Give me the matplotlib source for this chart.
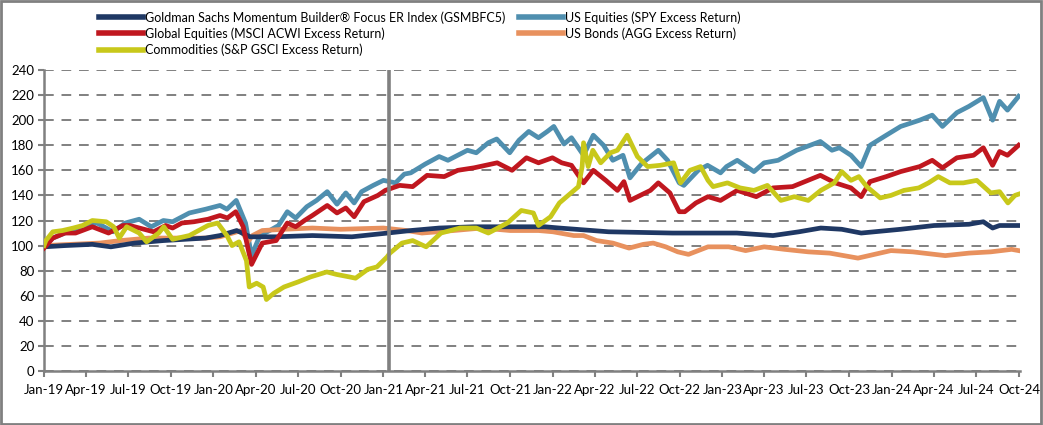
import matplotlib
matplotlib.use("Agg")
import matplotlib.pyplot as plt
from matplotlib.patches import Rectangle
from matplotlib.lines import Line2D
import pandas as pd

# ---------------- data ----------------
spy_dates = ["2019-01-01","2019-01-20","2019-02-15","2019-03-10","2019-04-25","2019-05-30","2019-06-25",
             "2019-07-25","2019-08-20","2019-09-15","2019-10-05","2019-11-10","2019-12-15","2020-01-15",
             "2020-01-30","2020-02-19","2020-03-10","2020-03-23","2020-04-10","2020-05-01","2020-05-20",
             "2020-06-08","2020-06-26","2020-07-20","2020-08-10","2020-09-02","2020-09-23","2020-10-12",
             "2020-10-30","2020-11-15","2020-12-10","2021-01-01","2021-01-27","2021-02-15","2021-03-01",
             "2021-04-01","2021-05-01","2021-05-20","2021-07-01","2021-07-20","2021-08-15","2021-09-02",
             "2021-09-30","2021-10-20","2021-11-10","2021-12-01","2021-12-20","2022-01-03","2022-01-25",
             "2022-02-10","2022-03-08","2022-03-29","2022-04-20","2022-05-10","2022-06-01","2022-06-16",
             "2022-07-10","2022-08-16","2022-09-05","2022-09-30","2022-10-10","2022-11-10","2022-11-30",
             "2022-12-28","2023-01-10","2023-02-02","2023-03-10","2023-04-01","2023-05-01","2023-06-10",
             "2023-07-31","2023-08-25","2023-09-10","2023-10-05","2023-10-27","2023-11-15","2023-12-20",
             "2024-01-20","2024-03-01","2024-03-28","2024-04-19","2024-05-20","2024-06-15","2024-07-16",
             "2024-08-05","2024-08-20","2024-09-06","2024-09-30"]
spy_vals = [100,106,110,113,118,111,118,121,115,120,119,126,129,132,129,136,118,92,108,112,116,
            127,122,131,136,143,133,142,134,143,148,152,150,157,158,165,171,168,176,174,182,185,
            174,184,191,186,191,195,181,186,172,188,180,168,172,154,165,176,168,150,148,160,164,
            158,163,168,159,166,168,176,183,176,178,172,163,180,188,195,200,204,195,206,211,218,
            200,215,208,219]

acwi_dates = ["2019-01-01","2019-01-20","2019-02-15","2019-03-10","2019-04-15","2019-05-20","2019-06-20",
              "2019-07-05","2019-08-25","2019-09-20","2019-10-05","2019-10-25","2019-11-20","2019-12-20",
              "2020-01-15","2020-01-31","2020-02-18","2020-03-05","2020-03-23","2020-04-15","2020-05-15",
              "2020-06-08","2020-06-26","2020-07-15","2020-08-01","2020-09-02","2020-09-23","2020-10-12",
              "2020-10-30","2020-11-20","2020-12-20","2021-01-05","2021-02-05","2021-03-05","2021-04-05",
              "2021-05-12","2021-06-10","2021-07-15","2021-09-03","2021-10-05","2021-11-05","2021-12-01",
              "2021-12-31","2022-01-20","2022-02-10","2022-03-08","2022-03-29","2022-04-25","2022-05-20",
              "2022-06-03","2022-06-16","2022-07-30","2022-08-16","2022-09-10","2022-09-30","2022-10-12",
              "2022-11-05","2022-12-01","2022-12-28","2023-02-02","2023-03-15","2023-04-20","2023-06-01",
              "2023-07-31","2023-09-01","2023-10-05","2023-10-27","2023-11-15","2023-12-20","2024-01-20",
              "2024-03-01","2024-03-28","2024-04-19","2024-05-20","2024-06-25","2024-07-16","2024-08-05",
              "2024-08-20","2024-09-06","2024-09-30"]
acwi_vals = [98,106,110,110,115,110,116,116,111,116,114,118,119,121,124,122,127,115,85,102,104,
             118,115,120,124,132,126,130,123,135,140,144,148,147,156,155,160,162,166,160,170,166,
             170,166,164,150,160,152,144,151,136,144,150,142,127,127,134,139,136,144,139,146,147,
             156,150,146,139,151,155,159,163,168,162,170,172,178,164,175,172,180]

cmd_dates = ["2019-01-01","2019-01-05","2019-01-20","2019-02-10","2019-03-05","2019-03-25","2019-04-15",
             "2019-05-15","2019-05-31","2019-06-12","2019-06-28","2019-07-25","2019-08-10","2019-09-05",
             "2019-09-16","2019-10-05","2019-11-10","2019-12-20","2020-01-10","2020-01-30","2020-02-10",
             "2020-02-25","2020-03-12","2020-03-18","2020-04-03","2020-04-17","2020-04-24","2020-05-10",
             "2020-06-01","2020-07-01","2020-07-28","2020-09-01","2020-09-22","2020-10-20","2020-11-02",
             "2020-11-28","2020-12-18","2021-01-09","2021-01-15","2021-02-10","2021-03-05","2021-04-03",
             "2021-05-05","2021-06-15","2021-07-20","2021-08-15","2021-09-25","2021-10-25","2021-11-20",
             "2021-12-01","2021-12-27","2022-01-15","2022-02-25","2022-03-05","2022-03-08","2022-03-18",
             "2022-03-28","2022-04-14","2022-05-05","2022-05-20","2022-06-10","2022-07-02","2022-07-24",
             "2022-08-20","2022-09-18","2022-10-03","2022-10-23","2022-11-15","2022-12-01","2022-12-12",
             "2023-01-12","2023-02-08","2023-03-10","2023-04-08","2023-05-07","2023-06-05","2023-07-05",
             "2023-08-01","2023-08-30","2023-09-15","2023-10-05","2023-10-22","2023-11-08","2023-12-07",
             "2023-12-30","2024-01-27","2024-02-28","2024-03-20","2024-04-10","2024-05-05","2024-06-03",
             "2024-07-02","2024-08-01","2024-08-20","2024-09-07","2024-09-22","2024-09-30"]
cmd_vals = [100,104,111,112,114,116,120,119,115,106,115,110,103,110,115,105,108,116,118,108,100,
            103,88,67,70,67,57,62,67,71,75,79,77,75,74,81,83,91,94,102,104,99,110,114,114,110,
            118,128,126,116,123,134,147,163,182,163,176,166,174,176,188,171,163,164,166,150,160,
            163,152,147,150,146,144,148,136,139,136,144,150,159,152,155,147,138,140,144,146,150,
            155,150,150,152,142,143,134,140,141]

agg_dates = ["2019-01-01","2019-03-01","2019-05-01","2019-06-15","2019-08-15","2019-10-15","2019-12-15",
             "2020-01-15","2020-03-01","2020-03-15","2020-03-25","2020-04-15","2020-06-01","2020-08-01",
             "2020-10-01","2021-01-01","2021-02-20","2021-03-25","2021-06-01","2021-08-01","2021-10-01",
             "2021-12-01","2022-01-01","2022-02-15","2022-03-08","2022-04-05","2022-05-10","2022-06-14",
             "2022-07-15","2022-08-05","2022-09-01","2022-09-27","2022-10-20","2022-12-01","2023-01-15",
             "2023-02-20","2023-04-01","2023-05-15","2023-07-05","2023-08-20","2023-10-20","2023-12-30",
             "2024-02-15","2024-04-25","2024-06-15","2024-08-01","2024-09-15","2024-09-30"]
agg_vals = [100,101,102,104,106,106,106,107,112,103,108,112,113,114,113,114,112,110,112,114,112,
            112,111,108,108,104,102,98,101,102,99,95,93,99,99,96,99,97,95,94,90,96,95,92,94,95,97,96]

gs_dates = ["2019-01-01","2019-02-15","2019-04-15","2019-05-25","2019-07-15","2019-09-15","2019-12-15",
            "2020-01-15","2020-02-20","2020-03-20","2020-05-15","2020-08-01","2020-10-25","2021-01-10",
            "2021-03-01","2021-05-01","2021-07-15","2021-10-01","2021-12-15","2022-01-15","2022-05-01",
            "2022-09-15","2023-02-01","2023-04-20","2023-06-15","2023-08-01","2023-09-15","2023-10-27",
            "2024-01-20","2024-04-01","2024-06-15","2024-07-16","2024-08-05","2024-08-20","2024-09-30"]
gs_vals = [99,100,101,99,102,104,106,108,112,107,107,108,107,110,112,114,115,115,115,114,111,
           110,110,108,111,114,113,110,113,116,117,119,114,116,116]

series_labels = ["Goldman Sachs Momentum Builder® Focus ER Index (GSMBFC5)",
                 "Global Equities (MSCI ACWI Excess Return)",
                 "Commodities (S&P GSCI Excess Return)",
                 "US Equities (SPY Excess Return)",
                 "US Bonds (AGG Excess Return)"]

tick_dates = ["2019-01-01","2019-04-01","2019-07-01","2019-10-01","2020-01-01","2020-04-01","2020-07-01",
              "2020-10-01","2021-01-01","2021-04-01","2021-07-01","2021-10-01","2022-01-01","2022-04-01",
              "2022-07-01","2022-10-01","2023-01-01","2023-04-01","2023-07-01","2023-10-01","2024-01-01",
              "2024-04-01","2024-07-01","2024-10-01"]
tick_labels = ["Jan-19","Apr-19","Jul-19","Oct-19","Jan-20","Apr-20","Jul-20","Oct-20","Jan-21","Apr-21",
               "Jul-21","Oct-21","Jan-22","Apr-22","Jul-22","Oct-22","Jan-23","Apr-23","Jul-23","Oct-23",
               "Jan-24","Apr-24","Jul-24","Oct-24"]
launch_date = "2021-01-13"

# ---------------- style ----------------
C_GS = "#1F3864"
C_ACWI = "#C0171F"
C_CMD = "#C8C81A"
C_SPY = "#4F8FAF"
C_AGG = "#E8915E"
GRAY = "#808080"

plt.rcParams['font.family'] = ['Lato', 'DejaVu Sans']

fig = plt.figure(figsize=(10.43, 4.25), dpi=100)
ax = fig.add_axes([44/1043, (425-371)/425, (1020-44)/1043, (371-70)/425])

lw = 3.4
ax.plot(pd.to_datetime(spy_dates), spy_vals, color=C_SPY, lw=lw, solid_joinstyle='round', zorder=3)
ax.plot(pd.to_datetime(agg_dates), agg_vals, color=C_AGG, lw=lw, solid_joinstyle='round', zorder=4)
ax.plot(pd.to_datetime(gs_dates), gs_vals, color=C_GS, lw=lw, solid_joinstyle='round', zorder=5)
ax.plot(pd.to_datetime(acwi_dates), acwi_vals, color=C_ACWI, lw=lw, solid_joinstyle='round', zorder=6)
ax.plot(pd.to_datetime(cmd_dates), cmd_vals, color=C_CMD, lw=lw, solid_joinstyle='round', zorder=7)

ax.axvline(pd.to_datetime(launch_date), color=GRAY, lw=2.6, zorder=8)

ax.set_ylim(0, 240)
ax.set_yticks(range(0, 241, 20))
ax.set_xlim(pd.to_datetime("2019-01-01"), pd.to_datetime("2024-10-03"))
ax.set_xticks(pd.to_datetime(tick_dates))
ax.set_xticklabels(tick_labels)

ax.grid(axis='y', color=GRAY, lw=1.4, ls=(0, (5, 4)), zorder=1)
ax.set_axisbelow(True)
for s in ['top', 'right']:
    ax.spines[s].set_visible(False)
for s in ['left', 'bottom']:
    ax.spines[s].set_color(GRAY)
    ax.spines[s].set_linewidth(1.8)
ax.tick_params(axis='both', colors=GRAY, labelcolor='black', labelsize=9.5, width=1.5, length=4, direction='out')
ax.tick_params(axis='x', pad=5)
ax.tick_params(axis='y', pad=3)

# legends
legkw = dict(loc='upper left', frameon=False, fontsize=9, handlelength=3.5, handletextpad=0.2,
             labelspacing=0.3, borderpad=0, borderaxespad=0)
h = [Line2D([], [], color=c, lw=4) for c in (C_GS, C_ACWI, C_CMD)]
fig.legend(h, series_labels[:3], bbox_to_anchor=(99/1043, 1 - 11/425), **legkw)
h2 = [Line2D([], [], color=c, lw=4) for c in (C_SPY, C_AGG)]
fig.legend(h2, series_labels[3:], bbox_to_anchor=(519/1043, 1 - 11/425), **legkw)

fig.patches.append(Rectangle((0.001, 0.002), 0.997, 0.996, transform=fig.transFigure,
                             fill=False, edgecolor=GRAY, lw=2))

fig.savefig("out.png", dpi=100)
